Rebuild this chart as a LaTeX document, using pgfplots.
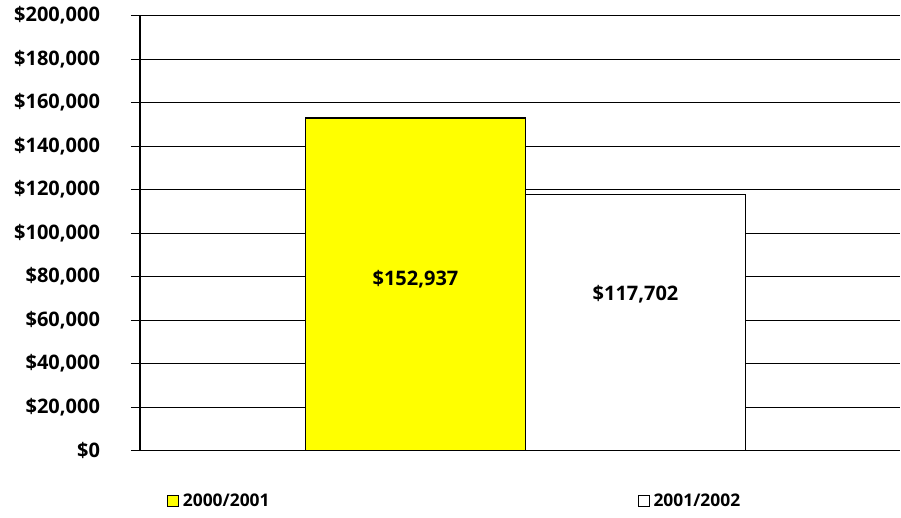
\documentclass[border=0pt]{standalone}
\usepackage{fontspec}
\setmainfont{Open Sans}
\usepackage{pgfplots}
\pgfplotsset{compat=1.18}
\definecolor{baryellow}{RGB}{255,255,0}
\begin{document}
\begin{tikzpicture}
\begin{axis}[
    scale only axis,
    width=380pt, height=217.5pt,
    xmin=-0.252, xmax=3.202,
    ymin=0, ymax=200000,
    ytick={0,20000,...,200000},
    axis x line=none,
    axis y line*=left,
    axis line style={black, line width=0.6pt},
    ymajorgrids,
    grid style={black, line width=0.5pt},
    tick align=outside,
    major tick length=4.5pt,
    tick style={black, line width=0.5pt},
    /pgf/number format/.cd, fixed, 1000 sep={,}, assume math mode=true,
    /pgfplots/.cd,
    scaled y ticks=false,
    yticklabel={\$\pgfmathprintnumber{\tick}},
    yticklabel style={font=\bfseries\fontsize{10}{11}\selectfont, xshift=-12pt},
    ybar, bar width=1, bar shift=0pt,
    clip=false,
    legend columns=2,
    legend style={at={(rel axis cs:0.027,-0.117)}, anchor=west, draw=none,
        font=\bfseries\fontsize{8.7}{10}\selectfont,
        /tikz/every even column/.append style={column sep=182pt}},
    legend image code/.code={\draw[#1, line width=0.5pt] (0pt,-2.75pt) rectangle (5.5pt,2.75pt);},
]
\addplot[fill=baryellow, draw=black, line width=0.6pt] coordinates {(1,152937)};
\addlegendentry{2000/2001}
\addplot[fill=white, draw=black, line width=0.6pt] coordinates {(2,117702)};
\addlegendentry{2001/2002}
\node[font=\bfseries\fontsize{10}{11}\selectfont] at (axis cs:1,79000) {\$152,937};
\node[font=\bfseries\fontsize{10}{11}\selectfont] at (axis cs:2,72000) {\$117,702};
\path (rel axis cs:-0.1842,-0.1379) rectangle (rel axis cs:1.0013,1.0345);
\end{axis}
\end{tikzpicture}
\end{document}
